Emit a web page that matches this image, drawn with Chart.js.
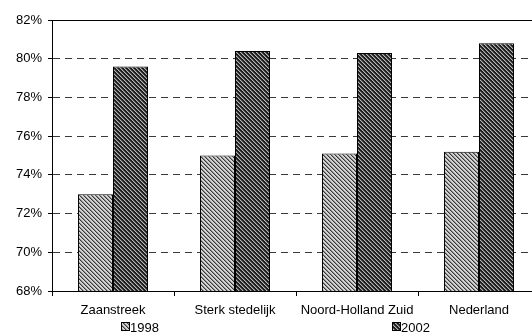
<!DOCTYPE html>
<html>
<head>
<meta charset="utf-8">
<script src="https://cdn.jsdelivr.net/npm/chart.js@4"></script>
<style>
  html, body { margin: 0; padding: 0; overflow: hidden; background: #fff; }
  canvas { display: block; }
</style>
</head>
<body>
<canvas id="c" width="540" height="335"></canvas>
<script>
// Share (%) per region, 1998 vs 2002
const categories = ['Zaanstreek', 'Sterk stedelijk', 'Noord-Holland Zuid', 'Nederland'];
const seriesNames = ['1998', '2002'];
const values1998 = [73.0, 75.0, 75.1, 75.2];
const values2002 = [79.6, 80.4, 80.3, 80.8];
const yTicks = [68, 70, 72, 74, 76, 78, 80, 82];

const FONT = 'Liberation Sans, Arial, Helvetica, sans-serif';

// Small diagonal hatch tile used as bar fill
function hatch(base, mid, line) {
  const t = document.createElement('canvas');
  t.width = 4; t.height = 4;
  const g = t.getContext('2d');
  g.fillStyle = base;
  g.fillRect(0, 0, 4, 4);
  for (let y = 0; y < 4; y++) {
    g.fillStyle = line;
    g.fillRect(y % 4, y, 1, 1);
    g.fillStyle = mid;
    g.fillRect((y + 1) % 4, y, 1, 1);
  }
  return g.createPattern(t, 'repeat');
}

const lightFill = hatch('#d4d4d4', '#8c8c8c', '#3a3a3a');
const darkFill = hatch('#1e1e1e', '#5c5c5c', '#b4b4b4');

// Legend drawn as a single row below the axis labels
const legendRow = { top: 322, box: 9, starts: [121, 392] };
const rowLegend = {
  id: 'rowLegend',
  afterDraw(chart) {
    const ctx = chart.ctx;
    ctx.save();
    chart.data.datasets.forEach((ds, i) => {
      const x = legendRow.starts[i];
      const y = legendRow.top;
      ctx.fillStyle = ds.backgroundColor;
      ctx.fillRect(x, y, legendRow.box, legendRow.box);
      ctx.strokeStyle = '#000';
      ctx.lineWidth = 1;
      ctx.strokeRect(x + 0.5, y + 0.5, legendRow.box - 1, legendRow.box - 1);
      ctx.fillStyle = '#000';
      ctx.font = '13px ' + FONT;
      ctx.textBaseline = 'alphabetic';
      ctx.textAlign = 'left';
      ctx.fillText(ds.label, x + legendRow.box, y + 9.7);
    });
    ctx.restore();
  }
};

new Chart(document.getElementById('c'), {
  type: 'bar',
  data: {
    labels: categories,
    datasets: [
      {
        label: seriesNames[0],
        data: values1998,
        backgroundColor: lightFill,
        borderColor: '#000',
        borderWidth: 1,
        borderSkipped: false
      },
      {
        label: seriesNames[1],
        data: values2002,
        backgroundColor: darkFill,
        borderColor: '#000',
        borderWidth: 1,
        borderSkipped: false
      }
    ]
  },
  options: {
    responsive: false,
    animation: false,
    devicePixelRatio: 1,
    layout: { padding: { top: 20, right: 0, bottom: 0, left: 0 } },
    datasets: {
      bar: { categoryPercentage: 0.574, barPercentage: 1.0 }
    },
    plugins: {
      legend: { display: false },
      tooltip: { enabled: false }
    },
    scales: {
      x: {
        offset: true,
        grid: {
          offset: true,
          drawOnChartArea: false,
          drawTicks: true,
          tickLength: 5,
          tickColor: '#000',
          color: '#000'
        },
        border: { display: true, color: '#000', width: 1 },
        ticks: {
          color: '#000',
          font: { family: FONT, size: 13 },
          padding: 7,
          maxRotation: 0,
          autoSkip: false
        },
        afterFit(scale) { scale.height = 44; }
      },
      y: {
        min: yTicks[0],
        max: yTicks[yTicks.length - 1],
        afterBuildTicks(scale) {
          scale.ticks = yTicks.map(v => ({ value: v }));
        },
        grid: {
          color: (c) => (c.tick && (c.tick.value === yTicks[0] || c.tick.value === yTicks[yTicks.length - 1])) ? '#000' : '#3a3a3a',
          lineWidth: 1,
          drawTicks: true,
          tickLength: 4,
          tickColor: '#000',
          tickBorderDash: []
        },
        border: {
          display: true,
          color: '#000',
          width: 1,
          dash: (c) => (c.tick && c.tick.value > yTicks[0] && c.tick.value < yTicks[yTicks.length - 1]) ? [7, 5] : []
        },
        ticks: {
          color: '#000',
          font: { family: FONT, size: 13 },
          padding: 6,
          callback: (v) => v + '%'
        },
        afterFit(scale) { scale.width = 52; }
      }
    }
  },
  plugins: [rowLegend]
});
</script>
</body>
</html>
